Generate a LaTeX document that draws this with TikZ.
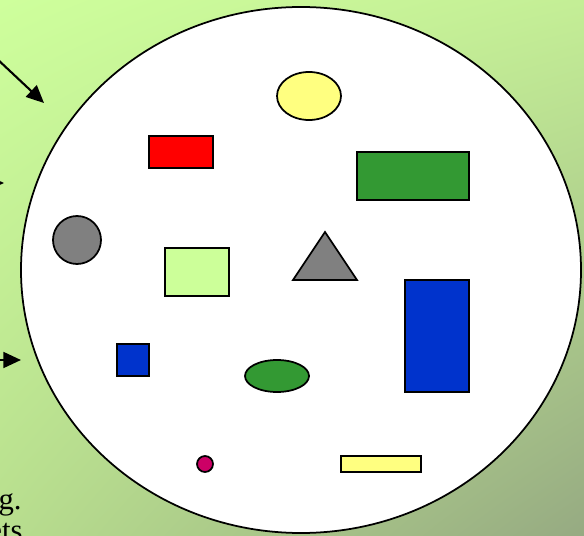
\documentclass[tikz,border=0pt]{standalone}
\usepackage{fontspec}
\setmainfont{Liberation Serif}
\usepackage{xcolor}
\usetikzlibrary{arrows.meta,shadings}

\definecolor{bgtl}{RGB}{206,255,156}
\definecolor{bgtr}{RGB}{196,238,150}
\definecolor{bgbl}{RGB}{184,222,142}
\definecolor{bgbr}{RGB}{150,170,130}
\definecolor{shpyellow}{RGB}{255,255,128}
\definecolor{shpred}{RGB}{255,0,0}
\definecolor{shpgreen}{RGB}{51,153,51}
\definecolor{shpgray}{RGB}{128,128,128}
\definecolor{shplight}{RGB}{204,255,153}
\definecolor{shpblue}{RGB}{0,51,204}
\definecolor{shpmag}{RGB}{204,0,102}

\begin{document}
\begin{tikzpicture}[x=0.02cm, y=-0.02cm,
  shp/.style={draw=black, line width=1pt},
  pointer/.style={line width=1.2pt, -{Triangle[length=10pt, width=9pt]}}]
  \useasboundingbox (0,0) rectangle (584,536);
  \clip (0,0) rectangle (584,536);

  % Background
  \shade[upper left=bgtl, upper right=bgtr, lower left=bgbl, lower right=bgbr]
    (0,0) rectangle (584,536);

  % Universe
  \draw[line width=1pt, fill=white] (301,270) ellipse [x radius=280, y radius=263];

  % Pointers from the left
  \coordinate (p1s) at (-5,57);  \coordinate (p1e) at (44,103);
  \coordinate (p2s) at (-30,183); \coordinate (p2e) at (4,183);
  \coordinate (p3s) at (-5,360);  \coordinate (p3e) at (21,360);
  \draw[pointer] (p1s) -- (p1e);
  \draw[pointer] (p2s) -- (p2e);
  \draw[pointer] (p3s) -- (p3e);

  % Shapes
  \draw[shp, fill=shpyellow] (309,96) ellipse [x radius=32, y radius=24];
  \draw[shp, fill=shpred] (149,136) rectangle (213,168);
  \draw[shp, fill=shpgreen] (357,152) rectangle (469,200);
  \draw[shp, fill=shpgray] (77,240) circle [radius=24];
  \draw[shp, fill=shplight] (165,248) rectangle (229,296);
  \draw[shp, fill=shpgray] (293,280) -- (357,280) -- (325,232) -- cycle;
  \draw[shp, fill=shpblue] (405,280) rectangle (469,392);
  \draw[shp, fill=shpblue] (117,344) rectangle (149,376);
  \draw[shp, fill=shpgreen] (277,376) ellipse [x radius=32, y radius=16];
  \draw[shp, fill=shpmag] (205,464) circle [radius=8];
  \draw[shp, fill=shpyellow] (341,456) rectangle (421,472);

  % Caption text (cut off at the left)
  \node[anchor=base east, inner sep=0pt, font=\fontsize{17.5}{20}\selectfont] (capa) at (22,509) {g.};
  \node[anchor=base east, inner sep=0pt, font=\fontsize{17.5}{20}\selectfont] (capb) at (23,540) {ets};
\end{tikzpicture}
\end{document}
